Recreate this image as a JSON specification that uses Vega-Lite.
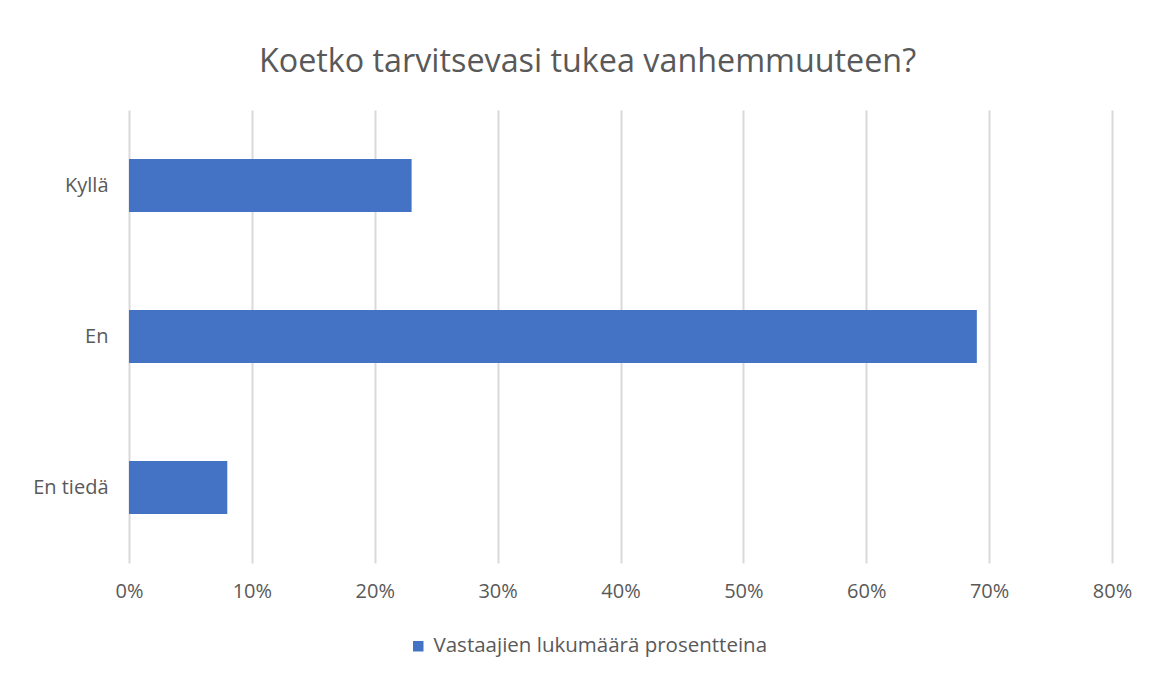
{
  "$schema": "https://vega.github.io/schema/vega-lite/v6.json",
  "width": 983,
  "height": 453,
  "autosize": {"type": "none"},
  "padding": {"left": 129, "top": 110, "right": 40, "bottom": 116},
  "background": "white",
  "title": {
    "text": "Koetko tarvitsevasi tukea vanhemmuuteen?",
    "font": "Open Sans",
    "fontSize": 32.3,
    "fontWeight": "normal",
    "color": "#595959",
    "anchor": "middle",
    "dx": -33,
    "offset": 32
  },
  "data": {
    "values": [
      {"vastaus": "Kyllä", "osuus": 0.23, "sarja": "Vastaajien lukumäärä prosentteina"},
      {"vastaus": "En", "osuus": 0.69, "sarja": "Vastaajien lukumäärä prosentteina"},
      {"vastaus": "En tiedä", "osuus": 0.08, "sarja": "Vastaajien lukumäärä prosentteina"}
    ]
  },
  "mark": {"type": "bar"},
  "encoding": {
    "y": {
      "field": "vastaus",
      "type": "nominal",
      "sort": ["Kyllä", "En", "En tiedä"],
      "scale": {"paddingInner": 0.65, "paddingOuter": 0.325},
      "axis": {
        "title": null,
        "domain": false,
        "ticks": false,
        "labelFont": "Open Sans",
        "labelFontSize": 20,
        "labelColor": "#595959",
        "labelPadding": 21
      }
    },
    "x": {
      "field": "osuus",
      "type": "quantitative",
      "scale": {"domain": [0, 0.8], "nice": false},
      "axis": {
        "title": null,
        "format": ".0%",
        "values": [0, 0.1, 0.2, 0.3, 0.4, 0.5, 0.6, 0.7, 0.8],
        "domain": false,
        "ticks": false,
        "grid": true,
        "gridColor": "#d9d9d9",
        "gridWidth": 2,
        "labelFlush": false,
        "labelFont": "Open Sans",
        "labelFontSize": 20,
        "labelColor": "#595959",
        "labelPadding": 18
      }
    },
    "color": {
      "field": "sarja",
      "type": "nominal",
      "scale": {"range": ["#4472C4"]},
      "legend": {
        "title": null,
        "orient": "none",
        "legendX": 279,
        "legendY": 526,
        "symbolType": "square",
        "symbolSize": 110,
        "labelFont": "Open Sans",
        "labelFontSize": 20.5,
        "labelColor": "#595959",
        "labelOffset": 5,
        "labelLimit": 0
      }
    }
  },
  "config": {
    "view": {"stroke": null}
  }
}
